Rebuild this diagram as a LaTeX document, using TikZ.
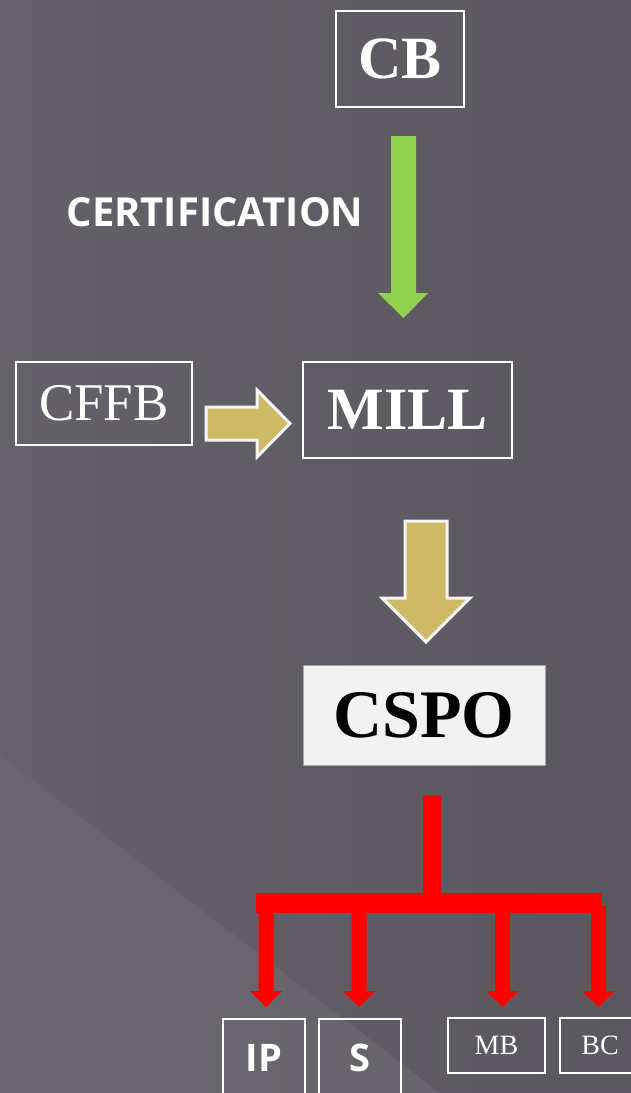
\documentclass[tikz,border=0pt]{standalone}
\usepackage{fontspec}
\setmainfont{Liberation Serif}
\newfontfamily\osans{Open Sans}
\definecolor{bg}{RGB}{94,92,98}
\definecolor{bgleft}{RGB}{100,98,104}
\definecolor{bgright}{RGB}{90,88,94}
\definecolor{bglight}{RGB}{106,104,110}
\definecolor{khaki}{RGB}{205,185,102}
\definecolor{lgreen}{RGB}{146,208,80}
\definecolor{boxfill}{RGB}{242,242,242}
\tikzset{
  wbox/.style={draw=white, line width=1.6pt, text=white, inner sep=0pt, align=center},
  blockarrow/.style={fill=khaki, draw=white!92!gray, line width=3pt, line join=miter},
  redpart/.style={fill=red, draw=none},
}
\begin{document}
\begin{tikzpicture}[x=1pt,y=-1pt]
\useasboundingbox (0,0) rectangle (631,1093);
\shade[left color=bgleft, right color=bgright] (0,0) rectangle (631,1093);
\fill[bglight, opacity=0.8] (0,755) -- (440,1093) -- (0,1093) -- cycle;
% boxes
\node[wbox, minimum width=128pt, minimum height=96pt] (cb) at (400,59) {\fontsize{60}{60}\selectfont\bfseries CB};
\node[wbox, minimum width=176pt, minimum height=83pt] (cffb) at (104,403.5) {\fontsize{53}{53}\selectfont CFFB};
\node[wbox, minimum width=209pt, minimum height=96pt] (mill) at (407.5,410) {\fontsize{60}{60}\selectfont\bfseries MILL};
\node[draw=gray!70, line width=0.8pt, fill=boxfill, text=black, minimum width=242pt, minimum height=100pt, inner sep=0pt] (cspo) at (424,715) {\fontsize{68}{68}\selectfont\bfseries CSPO};
\node[wbox, minimum width=82pt, minimum height=82pt, anchor=north] (ip) at (264,1018) {};
\node[wbox, minimum width=82pt, minimum height=82pt, anchor=north] (s) at (360,1018) {};
\node[text=white] (iptext) at (264,1058) {\osans\fontsize{38}{38}\selectfont\bfseries IP};
\node[text=white] (stext) at (360,1058) {\osans\fontsize{38}{38}\selectfont\bfseries S};
\node[wbox, minimum width=97pt, minimum height=55pt] (mb) at (496.5,1045.5) {\fontsize{28}{28}\selectfont MB};
\node[wbox, minimum width=82pt, minimum height=55pt, anchor=west] (bc) at (559,1045.5) {};
\node[text=white] (bctext) at (600,1045.5) {\fontsize{28}{28}\selectfont BC};
% certification label
\node[text=white] (cert) at (215,212) {\osans\fontsize{40}{40}\selectfont\bfseries CERTIFICATION};
% green arrow
\fill[lgreen] (391,136) -- (416,136) -- (416,293) -- (428,293) -- (403.5,318) -- (378,293) -- (391,293) -- cycle;
% khaki right arrow
\draw[blockarrow] (206,407) -- (257,407) -- (257,390) -- (290,423.5) -- (257,457) -- (257,440) -- (206,440) -- cycle;
% khaki down arrow
\draw[blockarrow] (405,521) -- (447,521) -- (447,598) -- (470,598) -- (426,642) -- (382,598) -- (405,598) -- cycle;
% red tree
\fill[redpart] (423,795) rectangle (441,895);
\fill[redpart] (256,893) rectangle (602,913);
\foreach \cx/\nm in {266/ip,359/s,502.5/mb,598.5/bc}{
  \fill[redpart] (\cx-7.5,905) -- (\cx+7.5,905) -- (\cx+7.5,991) -- (\cx+16,991) -- (\cx,1007) -- (\cx-16,991) -- (\cx-7.5,991) -- cycle;
}
\end{tikzpicture}
\end{document}
